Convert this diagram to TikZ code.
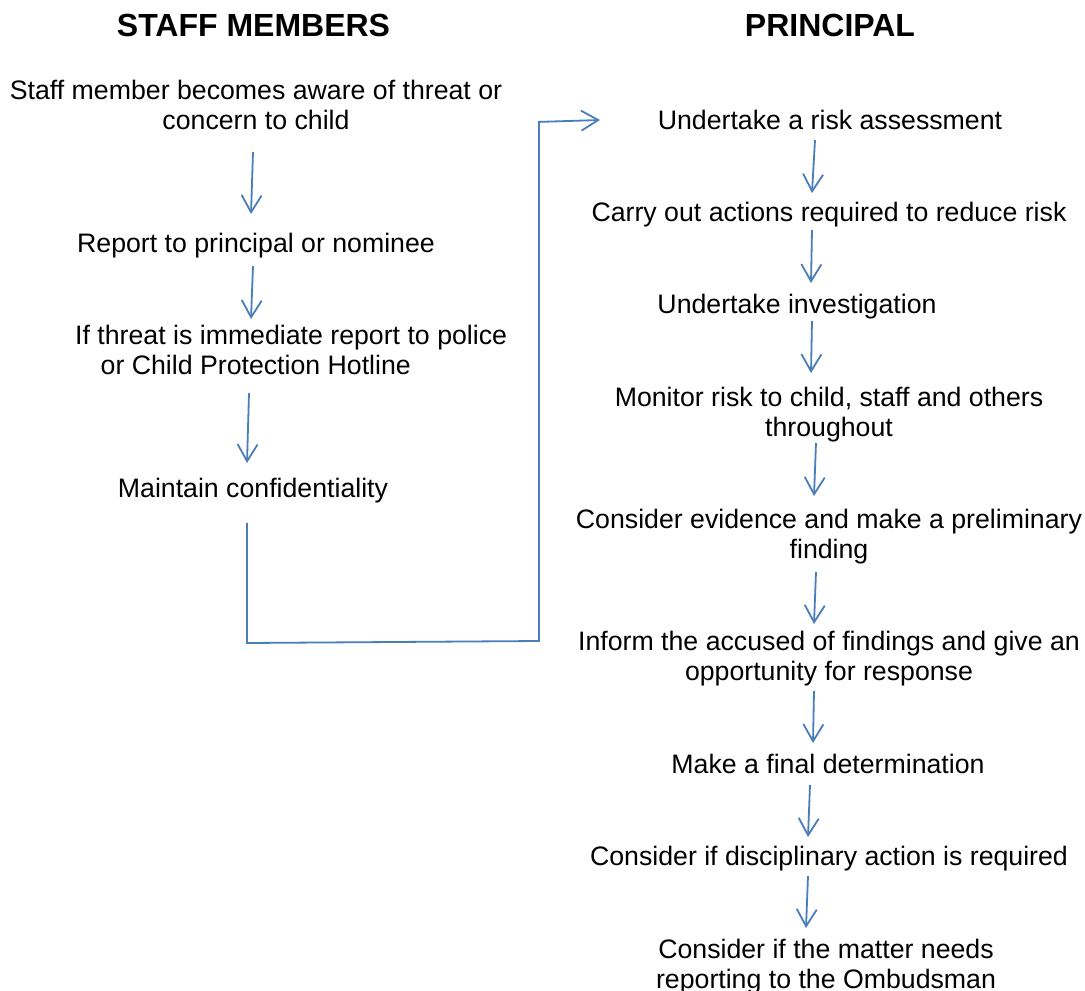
\documentclass[tikz,border=0pt]{standalone}
\usepackage{fontspec}
\setmainfont{Liberation Sans}
\usetikzlibrary{arrows.meta}
\definecolor{flowblue}{HTML}{4A7EBB}
\newcommand{\twolines}[2]{\begin{tabular}[t]{@{}c@{}}#1\\#2\end{tabular}}
\begin{document}
\begin{tikzpicture}[x=1pt,y=-1pt,
  title/.style={font=\fontsize{32}{36}\selectfont\bfseries, inner sep=0pt, anchor=base},
  stepbox/.style={font=\fontsize{26.7}{30}\selectfont, inner sep=0pt, anchor=base},
  flow/.style={draw=flowblue, line width=1.8pt, -{Straight Barb[length=17pt,width=20pt]}},
  link/.style={draw=flowblue, line width=1.8pt}]
\useasboundingbox (0,0) rectangle (1085,991);
\fill[white] (0,0) rectangle (1085,991);

% titles
\node[title] (tS) at (253.5,36) {STAFF MEMBERS};
\node[title] (tP) at (830,36) {PRINCIPAL};

% staff column
\node[stepbox] (s1) at (256,99) {\twolines{Staff member becomes aware of threat or}{concern to child}};
\node[stepbox] (s2) at (256,252) {Report to principal or nominee};
\node[stepbox, anchor=base west] (s3) at (75,344) {\begin{tabular}[t]{@{}l@{}}If threat is immediate report to police\\\hspace*{25.5pt}or Child Protection Hotline\end{tabular}};
\node[stepbox] (s4) at (253,497) {Maintain confidentiality};

% principal column
\node[stepbox] (p1) at (830,129) {Undertake a risk assessment};
\node[stepbox] (p2) at (829,221) {Carry out actions required to reduce risk};
\node[stepbox] (p3) at (797,313) {Undertake investigation};
\node[stepbox] (p4) at (829,406) {\twolines{Monitor risk to child, staff and others}{throughout}};
\node[stepbox] (p5) at (829,528) {\twolines{Consider evidence and make a preliminary}{finding}};
\node[stepbox] (p6) at (829,650) {\twolines{Inform the accused of findings and give an}{opportunity for response}};
\node[stepbox] (p7) at (828,773) {Make a final determination};
\node[stepbox] (p8) at (829,865) {Consider if disciplinary action is required};
\node[stepbox] (p9) at (826,958) {\twolines{Consider if the matter needs}{reporting to the Ombudsman}};

% arrow end points
\coordinate (s1o) at (253,152); \coordinate (s2i) at (251,214);
\coordinate (s2o) at (253,266); \coordinate (s3i) at (251,319);
\coordinate (s3o) at (249,393); \coordinate (s4i) at (247,463);
\coordinate (s4o) at (247,523); \coordinate (c1) at (247,643);
\coordinate (c2) at (539,641); \coordinate (c3) at (539,121);
\coordinate (p1i) at (600,120);
\coordinate (p1o) at (815,140); \coordinate (p2i) at (812,193);
\coordinate (p2o) at (812,230); \coordinate (p3i) at (811,283);
\coordinate (p3o) at (812,321); \coordinate (p4i) at (811,373);
\coordinate (p4o) at (816,443); \coordinate (p5i) at (814,496);
\coordinate (p5o) at (816,572); \coordinate (p6i) at (814,624);
\coordinate (p6o) at (814,691); \coordinate (p7i) at (813,743);
\coordinate (p7o) at (810,785); \coordinate (p8i) at (808,837);
\coordinate (p8o) at (808,876); \coordinate (p9i) at (806,928);

% connectors
\draw[flow] (s1o) -- (s2i);
\draw[flow] (s2o) -- (s3i);
\draw[flow] (s3o) -- (s4i);
\draw[link] (s4o) -- (c1) -- (c2) -- (c3);
\draw[flow] ([yshift=-0.9pt]c3) -- (p1i);
\draw[flow] (p1o) -- (p2i);
\draw[flow] (p2o) -- (p3i);
\draw[flow] (p3o) -- (p4i);
\draw[flow] (p4o) -- (p5i);
\draw[flow] (p5o) -- (p6i);
\draw[flow] (p6o) -- (p7i);
\draw[flow] (p7o) -- (p8i);
\draw[flow] (p8o) -- (p9i);
\end{tikzpicture}
\end{document}
